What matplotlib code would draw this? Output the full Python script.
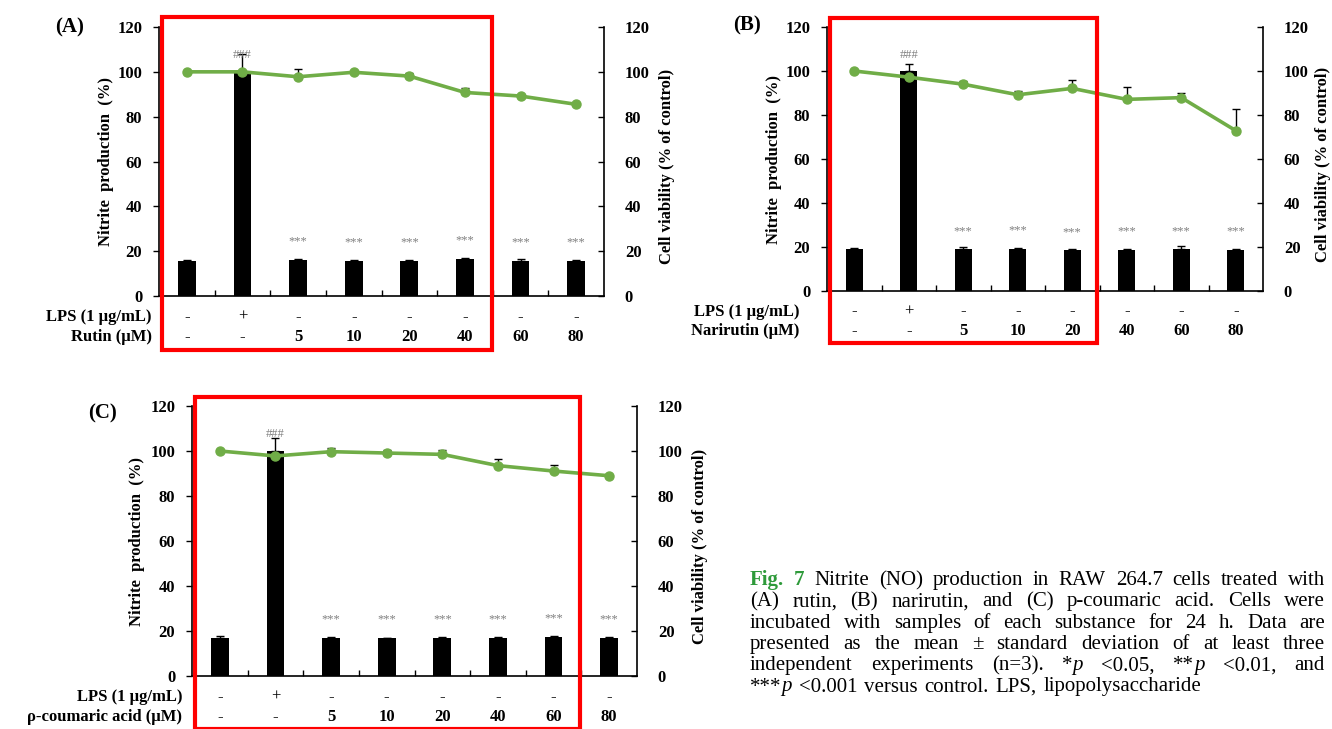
import numpy as np
import matplotlib
matplotlib.use("Agg")
import matplotlib.pyplot as plt
from matplotlib.patches import Rectangle

plt.rcParams['font.family'] = ['Liberation Serif', 'DejaVu Serif']

W, H = 1332, 729

# ---- data ----
lps_row = ["-", "+", "-", "-", "-", "-", "-", "-"]
conc_row = ["-", "-", "5", "10", "20", "40", "60", "80"]

# (A) rutin
rutin_no = [15.7, 100, 16.0, 15.7, 15.7, 16.4, 15.7, 15.7]
rutin_no_err = [0.5, 8.0, 0.5, 0.5, 0.5, 0.5, 1.0, 0.5]
rutin_via = [100, 100, 97.8, 99.8, 98.1, 90.8, 89.2, 85.5]
rutin_via_err = [0.3, 0.5, 3.3, 0.5, 1.5, 2.0, 0.5, 0.5]

# (B) narirutin
nari_no = [19.0, 100, 19.0, 19.1, 18.5, 18.8, 18.9, 18.8]
nari_no_err = [0.5, 3.0, 1.0, 0.5, 0.4, 0.3, 1.4, 0.4]
nari_via = [100, 97.2, 94.0, 89.2, 92.1, 87.1, 87.9, 72.9]
nari_via_err = [0.5, 0.5, 1.5, 1.7, 3.7, 5.8, 2.0, 10.0]

# (C) p-coumaric acid
coum_no = [16.8, 100, 16.8, 16.7, 16.9, 16.8, 17.3, 17.1]
coum_no_err = [1.0, 6.0, 0.5, 0.3, 0.5, 0.5, 0.5, 0.3]
coum_via = [100, 97.8, 99.7, 99.1, 98.5, 93.5, 91.1, 89.0]
coum_via_err = [0.3, 0.5, 1.8, 1.2, 1.8, 2.8, 2.5, 0.3]

GREEN = "#70AD47"
GREY = "#808080"

fig = plt.figure(figsize=(W / 100, H / 100), dpi=100)


def px_rect(left, right, bottom, top):
    # pixel box (y measured from top) -> figure fraction rect
    return [left / W, (H - bottom) / H, (right - left) / W, (bottom - top) / H]


def draw_panel(rect, no, no_err, via, via_err, conc_name, panel, row_x, lab_pos):
    ax = fig.add_axes(rect)
    x = np.arange(len(no))
    ax.bar(x, no, width=0.32, color="black", zorder=2)
    ax.errorbar(x, no, yerr=[np.zeros(len(no)), no_err], fmt="none",
                ecolor="black", elinewidth=1.0, capsize=3.2, capthick=1.0, zorder=3)
    for i in range(2, len(no)):
        ax.text(x[i], no[i] + 8.3, "***", ha="center", va="center",
                fontsize=9, color=GREY)
    ax.text(x[1], no[1] + 7.5, "###", ha="center", va="center",
            fontsize=9, color=GREY)

    ax.set_xlim(-0.5, len(no) - 0.5)
    ax.set_ylim(0, 120)
    ax.set_yticks(range(0, 121, 20))
    ax.set_xticks([])
    ax.set_xticks(np.arange(0.5, len(no) - 0.5, 1), minor=True)
    ax.tick_params(axis="x", which="minor", direction="in", length=4, width=1)
    ax.tick_params(axis="y", direction="out", length=4, width=1, pad=8,
                   labelsize=12)
    for lab in ax.get_yticklabels():
        lab.set_fontweight("bold")
    ax.spines["top"].set_visible(False)
    ax.spines["right"].set_visible(False)
    for s in ("left", "bottom"):
        ax.spines[s].set_linewidth(1.2)
    ax.text(lab_pos[0], 0.5, "Nitrite  production  (%)", rotation=90,
            transform=ax.transAxes, ha="center", va="center",
            fontsize=12, fontweight="bold")

    ax2 = ax.twinx()
    ax2.plot(x, via, color=GREEN, lw=2.6, marker="o", ms=6.5, zorder=3)
    ax2.errorbar(x, via, yerr=[np.zeros(len(via)), via_err], fmt="none",
                 ecolor="black", elinewidth=1.0, capsize=3.2, capthick=1.0, zorder=2)
    ax2.set_ylim(0, 120)
    ax2.set_yticks(range(0, 121, 20))
    ax2.tick_params(axis="y", direction="in", length=4, width=1, pad=15,
                    labelsize=12)
    for lab in ax2.get_yticklabels():
        lab.set_fontweight("bold")
    for s in ("top", "left", "bottom"):
        ax2.spines[s].set_visible(False)
    ax2.spines["right"].set_linewidth(1.2)
    ax2.text(lab_pos[1], 0.48, "Cell viability (% of control)", rotation=90,
             transform=ax2.transAxes, ha="center", va="center",
             fontsize=12, fontweight="bold")

    # treatment rows under the axis
    tr = ax.get_xaxis_transform()
    for i in x:
        ax.text(i, -0.078, lps_row[i], transform=tr, ha="center", va="center",
                fontsize=12)
        w = "normal" if conc_row[i] == "-" else "bold"
        ax.text(i, -0.152, conc_row[i], transform=tr, ha="center", va="center",
                fontsize=12, fontweight=w)
    ax.text(row_x, -0.078, "LPS (1 μg/mL)", transform=ax.transAxes,
            ha="right", va="center", fontsize=12, fontweight="bold")
    ax.text(row_x, -0.152, conc_name, transform=ax.transAxes,
            ha="right", va="center", fontsize=12, fontweight="bold")
    ax.text(lab_pos[2], lab_pos[3], panel, transform=ax.transAxes,
            ha="center", va="center", fontsize=15, fontweight="bold")
    return ax


draw_panel(px_rect(159, 604, 296, 27), rutin_no, rutin_no_err, rutin_via,
           rutin_via_err, "Rutin (μM)", "(A)", -0.016, (-0.119, 1.142, -0.20, 1.0))
draw_panel(px_rect(827, 1263, 291, 27), nari_no, nari_no_err, nari_via,
           nari_via_err, "Narirutin (μM)", "(B)", -0.064, (-0.122, 1.138, -0.183, 1.005))
draw_panel(px_rect(192, 637, 676, 406), coum_no, coum_no_err, coum_via,
           coum_via_err, "ρ-coumaric acid (μM)", "(C)", -0.022, (-0.124, 1.142, -0.202, 0.974))

# red highlight boxes
for l, r, t, b in [(162, 492, 17, 350), (830, 1097, 18, 343), (195, 580, 397, 729)]:
    fig.patches.append(Rectangle((l / W, (H - b) / H), (r - l) / W, (b - t) / H,
                                 transform=fig.transFigure, fill=False,
                                 edgecolor="#FF0000", lw=3.0, zorder=10))

# ---- justified caption ----
caption = [
    "Fig. 7 Nitrite (NO) production in RAW 264.7 cells treated with",
    "(A) rutin, (B) narirutin, and (C) p-coumaric acid. Cells were",
    "incubated with samples of each substance for 24 h. Data are",
    "presented as the mean ± standard deviation of at least three",
    "independent experiments (n=3). *p <0.05, **p <0.01, and",
    "***p <0.001 versus control. LPS, lipopolysaccharide",
]
cap_fs = 15
cap_left, cap_right = 750, 1325
renderer = fig.canvas.get_renderer()


def segments(word, line_no, k):
    if line_no == 0 and k < 2:
        return [(word, "normal", "bold", "#2E9A3A")]
    if word.startswith("*") and word.endswith("p"):
        return [(word[:-1], "normal", "normal", "black"), ("p", "italic", "normal", "black")]
    return [(word, "normal", "normal", "black")]


def seg_width(s, style, weight):
    t = fig.text(0, 0, s, fontsize=cap_fs, style=style, fontweight=weight)
    w = t.get_window_extent(renderer).width
    t.remove()
    return w


space_w = seg_width("a a", "normal", "normal") - seg_width("aa", "normal", "normal")
for n, line in enumerate(caption):
    words = [segments(w, n, k) for k, w in enumerate(line.split(" "))]
    widths = [sum(seg_width(s, st, wt) for s, st, wt, c in wd) for wd in words]
    if n < len(caption) - 1:
        gap = (cap_right - cap_left - sum(widths)) / (len(words) - 1)
    else:
        gap = space_w * 1.3
    xpos = cap_left
    ybase = 585 + 21.3 * n
    for wd, ww in zip(words, widths):
        xs = xpos
        for s, st, wt, c in wd:
            fig.text(xs / W, (H - ybase) / H, s, fontsize=cap_fs, style=st,
                     fontweight=wt, color=c, va="baseline", ha="left")
            xs += seg_width(s, st, wt)
        xpos += ww + gap

fig.savefig("out.png", dpi=100)
